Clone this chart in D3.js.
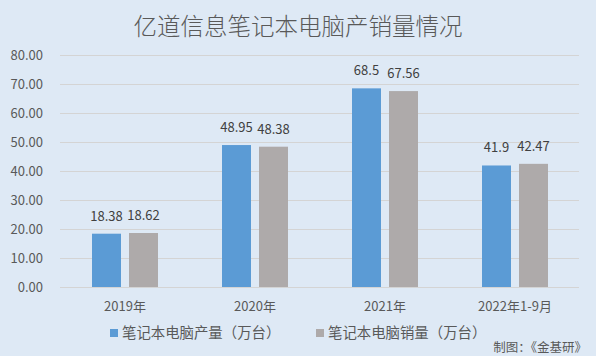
<!DOCTYPE html>
<html><head><meta charset="utf-8">
<script src="https://cdn.jsdelivr.net/npm/d3@7"></script>
<style>body{margin:0;background:#dee9f5;}svg{display:block;}</style>
</head><body>
<svg id="c" width="596" height="356"></svg>
<script>
const categories = ["2019年", "2020年", "2021年", "2022年1-9月"];
const production = [18.38, 48.95, 68.5, 41.9];
const sales = [18.62, 48.38, 67.56, 42.47];
const seriesNames = ["笔记本电脑产量（万台）", "笔记本电脑销量（万台）"];
const yTicks = [0, 10, 20, 30, 40, 50, 60, 70, 80];
const colors = ["#5b9bd5", "#aeaaaa"];
const font = "'Noto Sans CJK SC', 'Microsoft YaHei', sans-serif";

const svg = d3.select("#c");
svg.append("rect").attr("width", 596).attr("height", 356).attr("fill", "#dee9f5");

svg.append("text").attr("x", 298).attr("y", 35).attr("text-anchor", "middle")
  .attr("font-family", font).attr("font-size", 23.5).attr("font-weight", 300).attr("fill", "#595959")
  .text("亿道信息笔记本电脑产销量情况");

const x = d3.scaleBand().domain(categories).range([60, 580]);
const y = d3.scaleLinear().domain([0, 80]).range([287, 55]);
const xs = d3.scaleBand().domain([0, 1]).range([32, 98]).paddingInner(8 / 37);

// gridlines
svg.append("g").selectAll("line").data(yTicks).join("line")
  .attr("x1", 60).attr("x2", 579)
  .attr("y1", d => Math.round(y(d)) + 0.5).attr("y2", d => Math.round(y(d)) + 0.5)
  .attr("stroke", "#d4d4d4").attr("stroke-width", 1);

// y axis labels
const yAxis = d3.axisLeft(y).tickValues(yTicks).tickFormat(d3.format(".2f")).tickSize(0).tickPadding(0);
const ya = svg.append("g").attr("transform", "translate(43,0)").call(yAxis);
ya.select(".domain").remove();
ya.selectAll("text").attr("font-family", font).attr("font-size", 13).attr("fill", "#595959");

// x axis labels
const xAxis = d3.axisBottom(x).tickSize(0).tickPadding(0);
const xa = svg.append("g").attr("transform", "translate(0,302)").call(xAxis);
xa.select(".domain").remove();
xa.selectAll("text").attr("font-family", font).attr("font-size", 13).attr("fill", "#595959");

const series = [production, sales];
series.forEach((vals, si) => {
  const g = svg.append("g");
  g.selectAll("rect").data(vals).join("rect")
    .attr("x", (d, i) => x(categories[i]) + xs(si))
    .attr("width", xs.bandwidth())
    .attr("y", d => y(d))
    .attr("height", d => y(0) - y(d))
    .attr("fill", colors[si]);
  g.selectAll("text").data(vals).join("text")
    .attr("x", (d, i) => x(categories[i]) + xs(si) + xs.bandwidth() / 2)
    .attr("y", d => y(d) - 13)
    .attr("text-anchor", "middle")
    .attr("font-family", font).attr("font-size", 13).attr("fill", "#404040")
    .text(d => d);
});

// legend
const legendX = [110, 316];
seriesNames.forEach((n, i) => {
  svg.append("rect").attr("x", legendX[i]).attr("y", 329).attr("width", 8).attr("height", 8).attr("fill", colors[i]);
  svg.append("text").attr("x", legendX[i] + 12).attr("y", 338)
    .attr("font-family", font).attr("font-size", 14.4).attr("fill", "#595959").text(n);
});

svg.append("text").attr("x", 587).attr("y", 352).attr("text-anchor", "end")
  .attr("font-family", font).attr("font-size", 12.5).attr("fill", "#595959").text("制图：《金基研》");
</script>
</body></html>
